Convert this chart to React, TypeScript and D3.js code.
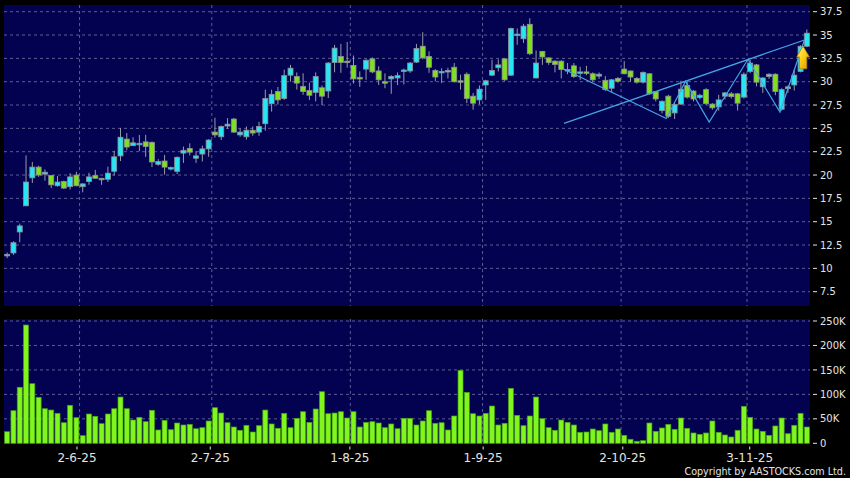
import React from "react";
import * as d3 from "d3";

// Trading days (D-M-YY)
const dates = [
  "16-5-25","19-5-25","20-5-25","21-5-25","22-5-25","23-5-25","26-5-25","27-5-25","28-5-25","29-5-25","30-5-25",
  "2-6-25","3-6-25","4-6-25","5-6-25","6-6-25","9-6-25","10-6-25","11-6-25","12-6-25","13-6-25","16-6-25","17-6-25","18-6-25","19-6-25","20-6-25","23-6-25","24-6-25","25-6-25","26-6-25","27-6-25","30-6-25",
  "2-7-25","3-7-25","4-7-25","7-7-25","8-7-25","9-7-25","10-7-25","11-7-25","14-7-25","15-7-25","16-7-25","17-7-25","18-7-25","21-7-25","22-7-25","23-7-25","24-7-25","25-7-25","28-7-25","29-7-25","30-7-25","31-7-25",
  "1-8-25","4-8-25","5-8-25","6-8-25","7-8-25","8-8-25","11-8-25","12-8-25","13-8-25","14-8-25","15-8-25","18-8-25","19-8-25","20-8-25","21-8-25","22-8-25","25-8-25","26-8-25","27-8-25","28-8-25","29-8-25",
  "1-9-25","2-9-25","3-9-25","4-9-25","5-9-25","8-9-25","9-9-25","10-9-25","11-9-25","12-9-25","15-9-25","16-9-25","17-9-25","18-9-25","19-9-25","22-9-25","23-9-25","24-9-25","25-9-25","26-9-25","29-9-25","30-9-25",
  "2-10-25","3-10-25","6-10-25","8-10-25","9-10-25","10-10-25","13-10-25","14-10-25","15-10-25","16-10-25","17-10-25","20-10-25","21-10-25","22-10-25","23-10-25","24-10-25","27-10-25","28-10-25","30-10-25","31-10-25",
  "3-11-25","4-11-25","5-11-25","6-11-25","7-11-25","10-11-25","11-11-25","12-11-25","13-11-25","14-11-25","17-11-25",
];

const open = [
  11.45,11.65,13.9,16.7,19.7,20.85,20.1,19.95,18.85,19.3,18.75,20.0,18.75,19.3,19.95,19.65,19.55,20.4,22.05,23.85,
  23.15,23.4,23.55,23.5,21.15,21.5,20.8,20.4,22.35,22.85,21.8,22.25,22.8,24.6,24.1,25.25,26.0,24.3,24.1,24.8,
  24.6,25.5,27.65,28.95,28.2,30.7,30.55,29.5,29.05,28.85,29.35,29.0,32.05,32.7,32.2,31.75,30.45,31.35,32.45,31.15,
  30.0,30.3,30.4,31.1,31.15,32.1,33.8,32.7,31.2,31.1,31.2,31.55,30.1,30.8,28.45,28.05,29.65,30.7,31.5,32.45,
  30.7,35.05,34.6,36.15,30.4,33.25,32.55,32.2,32.2,31.25,31.7,31.0,31.05,30.85,30.6,30.15,29.3,30.35,31.35,31.15,
  30.35,29.95,30.85,28.95,26.9,28.45,26.65,27.6,29.6,29.0,28.3,29.15,27.6,27.3,28.45,28.7,28.7,28.35,31.1,31.8,
  29.45,30.55,30.8,27.05,29.45,29.65,31.1,33.8,
];
const high = [
  11.7,12.9,14.8,22.1,21.4,21.0,20.6,19.95,19.9,19.4,20.2,20.35,19.1,20.25,20.55,19.7,20.9,22.6,25.05,24.5,
  24.05,24.3,24.3,23.6,21.7,22.15,20.9,22.0,23.05,23.4,22.55,23.15,23.85,26.15,25.3,26.1,26.1,25.0,25.2,25.2,
  25.7,29.15,29.15,29.45,31.3,31.8,31.0,30.9,29.9,31.0,29.6,32.1,33.95,34.05,34.25,32.8,31.1,32.4,32.6,31.65,
  30.9,30.7,31.0,31.4,32.1,34.05,35.3,33.25,31.35,31.45,31.5,32.0,30.75,31.0,28.8,29.6,30.2,32.35,32.4,32.5,
  35.8,35.7,36.2,36.8,33.35,33.3,32.6,32.3,32.3,32.0,32.0,31.6,31.7,31.0,31.0,30.6,30.3,30.5,32.2,31.2,
  30.5,31.1,30.9,29.0,28.0,28.6,27.7,30.1,30.05,29.1,28.7,29.3,27.7,28.6,28.9,28.9,28.8,31.0,32.35,31.9,
  30.5,30.9,30.9,29.3,29.6,31.3,33.9,35.6,
];
const low = [
  11.1,11.45,12.8,16.7,19.15,19.8,19.4,18.6,18.75,18.5,18.45,18.8,18.15,18.95,19.6,18.95,19.25,19.95,21.5,22.65,
  23.1,22.55,21.95,20.85,21.0,20.05,20.5,20.1,21.3,22.1,21.3,21.45,21.95,24.0,23.75,24.95,24.5,24.1,23.8,24.2,
  24.2,24.75,26.8,27.55,28.05,30.0,29.15,28.6,28.05,27.9,27.5,28.25,31.0,30.95,31.5,29.8,29.45,30.2,30.9,29.65,
  29.3,28.7,29.65,29.7,30.95,32.0,32.4,30.95,30.05,29.85,30.35,29.9,29.15,27.7,27.0,27.55,28.05,30.6,31.1,30.1,
  30.6,33.95,34.15,32.85,30.35,31.8,31.8,31.0,30.35,30.8,30.4,30.2,30.7,30.0,30.3,29.0,28.85,29.9,30.8,30.0,
  29.8,29.8,28.6,27.9,26.6,26.1,26.0,27.5,28.2,27.9,28.1,27.5,27.0,26.9,28.1,28.2,26.9,28.2,30.9,29.5,
  28.8,30.3,28.55,26.9,28.8,29.05,31.0,33.7,
];
const close = [
  11.5,12.75,14.55,19.25,20.85,20.0,20.3,18.95,19.25,18.6,19.8,18.85,19.05,19.8,19.65,19.5,20.2,21.95,24.05,23.0,
  23.45,23.4,23.05,21.4,21.45,20.85,20.8,21.9,22.65,22.45,22.05,22.8,23.75,24.3,25.2,25.45,24.6,24.6,24.8,24.5,
  25.2,28.2,28.65,28.05,30.65,31.45,29.85,28.95,28.55,30.55,28.45,32.0,33.6,32.05,32.15,30.3,30.4,32.3,31.05,30.2,
  29.95,30.55,30.65,31.25,32.0,33.55,32.55,31.55,30.5,31.1,31.2,30.0,30.05,28.2,27.7,29.2,30.1,31.2,31.8,30.2,
  35.7,35.1,35.95,33.0,32.0,32.65,32.05,31.85,31.3,31.3,30.55,31.05,31.0,30.2,30.8,29.15,30.2,30.05,30.85,30.5,
  29.95,31.0,28.7,28.15,27.9,26.3,27.55,29.2,28.35,28.15,28.55,27.65,27.2,28.05,28.8,28.4,27.7,30.8,32.0,29.95,
  30.4,30.8,28.95,29.15,29.25,30.7,33.8,35.2,
];
// volume in thousands of shares
const volumeK = [
  23.7,66.6,114.5,241.8,121.8,94,70.7,68,61.3,42.1,77.7,52.4,15.6,59.9,55.2,40.1,59.9,70.7,94.6,70.7,
  47.6,53.1,44.2,67.5,27.2,47,27.8,41.5,37.4,38.8,29.8,31.9,45.6,72.8,61.9,42.1,33.3,26.6,36.8,23.1,
  36,68,39.5,30.7,61.3,31.9,51.1,64.6,42.8,70.1,105.5,60.5,61.9,64.6,51.7,64.6,33.3,42.8,44.2,41.5,
  31.9,39.5,29.8,51.1,51.1,37.4,45.6,66.6,40.9,42.1,27.2,55.8,149.2,104.2,60.5,55.8,61.3,76.2,37.4,40.9,
  112.4,57.2,36,55.8,94.6,50.3,31.9,26.6,47.6,42.8,37.4,22.5,23.1,29.2,25.8,39.5,22.5,29.2,16.3,8.2,
  4.1,5.4,41.5,24.5,31.3,38.8,28.6,51.7,30.7,21.1,18.4,21.1,45.6,22.5,17,12.9,26.6,75.6,53.1,29.2,
  24.5,16.3,35.4,51.7,19.6,36.8,61.3,33.3,
];

const priceTicks = [7.5, 10, 12.5, 15, 17.5, 20, 22.5, 25, 27.5, 30, 32.5, 35, 37.5];
const volumeTicks = [0, 50, 100, 150, 200, 250];
const volumeTickLabels = ["0", "50K", "100K", "150K", "200K", "250K"];
const dateTicks = ["2-6-25", "2-7-25", "1-8-25", "1-9-25", "2-10-25", "3-11-25"];

// drawn annotations: [trading-day index, price]
const zigzag: [number, number][] = [
  [88.35, 31.36], [104.68, 26.06], [107.73, 30.04], [111.49, 25.68],
  [117.65, 32.4], [122.73, 26.75], [126.62, 34.47],
];
const trendline: [number, number][] = [[88.43, 25.54], [126.62, 34.47]];
const signalArrow = { index: 126.4, price: 33.8 };

export default function App() {
  const W = 850, H = 478;
  const left = 4, right = 810;
  const pTop = 5, pBot = 306;
  const vTop = 319, vBot = 443.3;
  const n = dates.length;

  const x = d3.scaleBand<number>().domain(d3.range(n)).range([left, right]).padding(0);
  const step = x.step();
  const cx = (i: number) => (x(i) as number) + step / 2;
  const xi = d3.scaleLinear().domain([0, n - 1]).range([cx(0), cx(n - 1)]);
  const xLabel = d3.scaleLinear().domain([-0.5, n - 1.5]).range([left, right]);

  const y = d3.scaleLinear().domain([7.5, 37.5]).range([291.7, 11.7]);
  const yv = d3.scaleLinear().domain([0, 250]).range([vBot, 321]);

  const gridColor = "#5d5d93";
  const textColor = "#e4e4e4";
  const upColor = "#25e6f2";
  const downColor = "#7fe020";
  const edge = "#8f8f98";
  const bodyW = 5;

  const line = d3.line<[number, number]>().x((d) => xi(d[0])).y((d) => y(d[1]));

  const tickIdx = dateTicks.map((t) => dates.indexOf(t));

  const ax = xi(signalArrow.index);
  const ay = y(signalArrow.price);
  const arrowPath = `M${ax},${ay} L${ax + 6.3},${ay + 10.7} L${ax + 3.7},${ay + 10.7} L${ax + 3.7},${ay + 22.6} L${ax - 3.7},${ay + 22.6} L${ax - 3.7},${ay + 10.7} L${ax - 6.3},${ay + 10.7} Z`;

  return (
    <svg
      width={W}
      height={H}
      viewBox={`0 0 ${W} ${H}`}
      style={{ position: "absolute", left: 0, top: 0, display: "block", background: "#000" }}
      fontFamily="'DejaVu Sans', Verdana, sans-serif"
    >
      <defs>
        <linearGradient id="arrowGrad" x1="0" y1="0" x2="1" y2="1">
          <stop offset="0" stopColor="#fff7a0" />
          <stop offset="0.45" stopColor="#ffd21a" />
          <stop offset="1" stopColor="#d99a00" />
        </linearGradient>
        <clipPath id="priceClip">
          <rect x={left} y={pTop} width={right - left} height={pBot - pTop} />
        </clipPath>
      </defs>
      <rect x={0} y={0} width={W} height={H} fill="#000" />

      {/* panels */}
      <rect x={left} y={pTop} width={right - left} height={pBot - pTop} fill="#020250" />
      <rect x={left} y={vTop} width={right - left} height={vBot - vTop} fill="#020250" />

      {/* horizontal grid: price */}
      {priceTicks.map((t) => (
        <line key={"pg" + t} x1={left} x2={right} y1={y(t)} y2={y(t)} stroke={gridColor} strokeWidth={1} strokeDasharray="3,3" />
      ))}
      {/* horizontal grid: volume */}
      {volumeTicks.filter((t) => t > 0).map((t) => (
        <line key={"vg" + t} x1={left} x2={right} y1={yv(t)} y2={yv(t)} stroke={gridColor} strokeWidth={1} strokeDasharray="3,3" />
      ))}
      {/* vertical grid */}
      {tickIdx.map((i) => {
        const gx = (x(i) as number) + step;
        return (
          <g key={"vgx" + i}>
            <line x1={gx} x2={gx} y1={pTop} y2={pBot} stroke={gridColor} strokeWidth={1} strokeDasharray="3,3" />
            <line x1={gx} x2={gx} y1={vTop} y2={vBot} stroke={gridColor} strokeWidth={1} strokeDasharray="3,3" />
          </g>
        );
      })}

      {/* volume bars */}
      {volumeK.map((v, i) => (
        <rect
          key={"v" + i}
          x={cx(i) - bodyW / 2}
          y={yv(v)}
          width={bodyW}
          height={vBot - yv(v)}
          fill="#80f51e"
          stroke="#46a010"
          strokeWidth={0.7}
        />
      ))}

      {/* candles */}
      <g clipPath="url(#priceClip)">
        {dates.map((_, i) => {
          const o = open[i], c = close[i], h = high[i], l = low[i];
          const up = c >= o;
          const top = y(Math.max(o, c));
          const bot = y(Math.min(o, c));
          const bh = Math.max(bot - top, 1.5);
          const xc = cx(i);
          return (
            <g key={"c" + i}>
              <line x1={xc} x2={xc} y1={y(h)} y2={y(l)} stroke="#9a9aa6" strokeWidth={1} />
              <rect
                x={xc - bodyW / 2}
                y={top}
                width={bodyW}
                height={bh}
                fill={up ? upColor : downColor}
                stroke={edge}
                strokeWidth={0.8}
              />
            </g>
          );
        })}

        {/* annotations */}
        <path d={line(trendline) || ""} fill="none" stroke="#45a5e4" strokeWidth={1.2} />
        <path d={line(zigzag) || ""} fill="none" stroke="#45a5e4" strokeWidth={1.2} />
        <path d={arrowPath} fill="url(#arrowGrad)" stroke="#b88400" strokeWidth={0.8} />
      </g>

      {/* price axis */}
      {priceTicks.map((t) => (
        <g key={"pt" + t}>
          <line x1={813} x2={817} y1={y(t)} y2={y(t)} stroke={textColor} strokeWidth={1} />
          <text x={820} y={y(t)} dy="0.36em" fontSize={10} fill={textColor}>
            {t}
          </text>
        </g>
      ))}
      {/* volume axis */}
      {volumeTicks.map((t, k) => (
        <g key={"vt" + t}>
          <line x1={813} x2={817} y1={yv(t)} y2={yv(t)} stroke={textColor} strokeWidth={1} />
          <text x={820} y={yv(t)} dy="0.36em" fontSize={10} fill={textColor}>
            {volumeTickLabels[k]}
          </text>
        </g>
      ))}
      {/* date axis */}
      {tickIdx.map((i, k) => {
        const tx = xLabel(i);
        return (
          <g key={"dt" + i}>
            <line x1={tx} x2={tx} y1={446.5} y2={449.5} stroke={textColor} strokeWidth={1} />
            <text x={tx} y={462} textAnchor="middle" fontSize={12} fill={textColor}>
              {dateTicks[k]}
            </text>
          </g>
        );
      })}

      <text x={846} y={474.5} textAnchor="end" fontSize={9.6} fill={textColor}>
        Copyright by AASTOCKS.com Ltd.
      </text>
    </svg>
  );
}
